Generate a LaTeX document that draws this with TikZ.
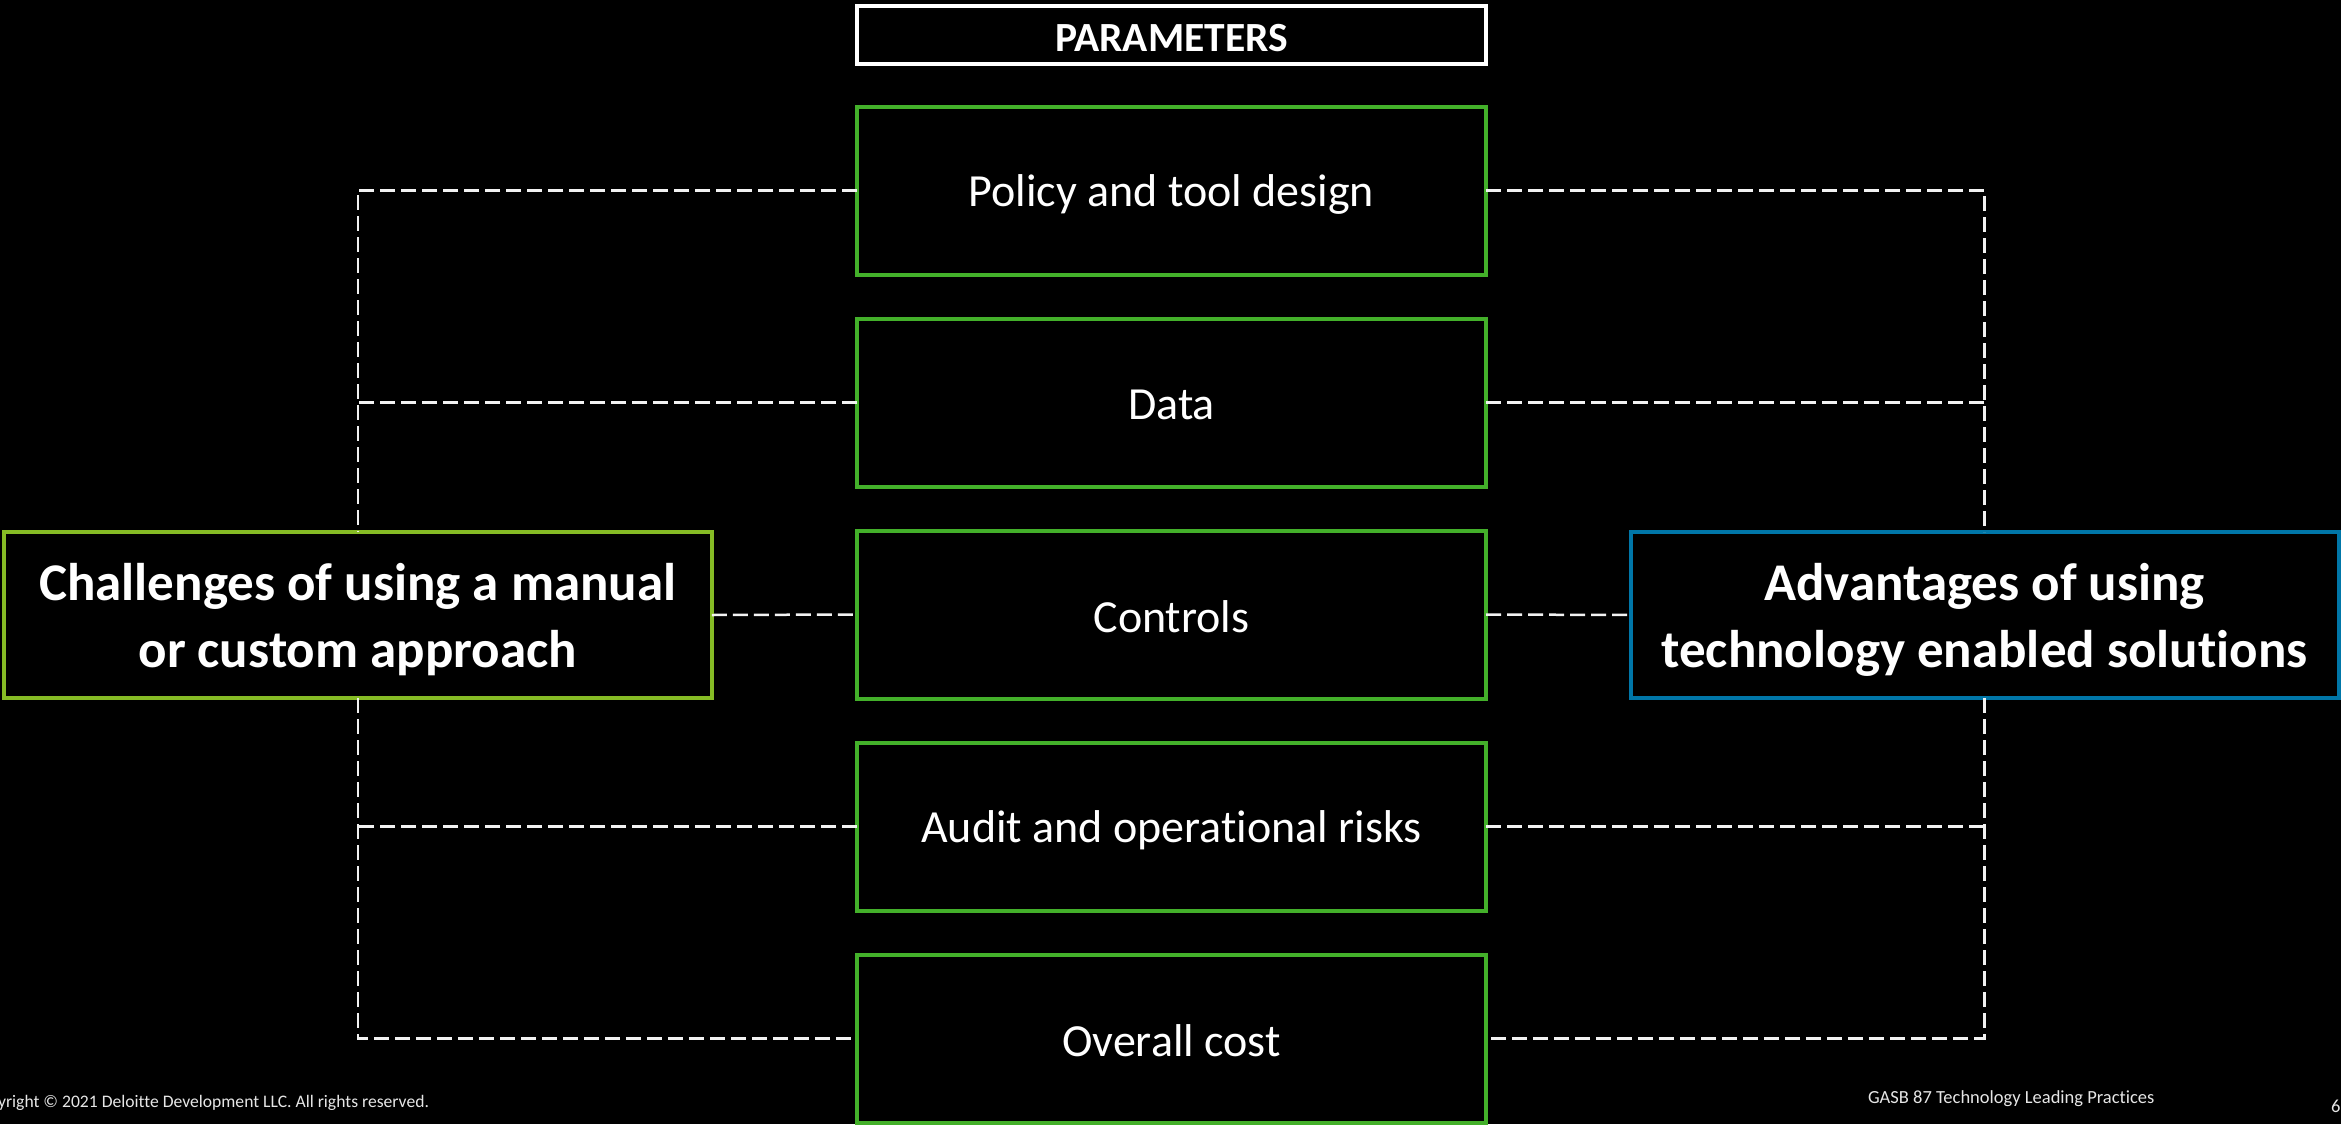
\documentclass[tikz,border=0pt]{standalone}
\usepackage{fontspec}
\setmainfont{Carlito}[Ligatures=NoCommon]
\definecolor{pgreen}{HTML}{43B02A}
\definecolor{lgreen}{HTML}{86BC25}
\definecolor{dblue}{HTML}{0076A8}
\definecolor{dashc}{HTML}{F2F2F2}
\definecolor{footc}{HTML}{E6E6E6}
\begin{document}
\begin{tikzpicture}[x=1pt,y=-1pt,
  parambox/.style={draw=pgreen, line width=4pt, minimum width=629pt, minimum height=168pt,
    inner sep=0pt, outer sep=0pt},
  ptext/.style={text=white, inner sep=0pt, font=\fontsize{46}{55}\selectfont},
  headbox/.style={draw=white, line width=4pt, minimum width=629pt, minimum height=58pt,
    inner sep=0pt, outer sep=0pt},
  htext/.style={text=white, inner sep=0pt, font=\bfseries\fontsize{41.5}{50}\selectfont},
  sidebox/.style={line width=4pt, minimum width=708pt, minimum height=166pt,
    inner sep=0pt, outer sep=0pt},
  stext/.style={text=white, inner sep=0pt, align=center,
    font=\bfseries\fontsize{53}{67}\selectfont},
  link/.style={draw=dashc, line width=2.5pt, dash pattern=on 15pt off 6pt},
  foot/.style={text=footc, inner sep=0pt, outer sep=0pt, font=\fontsize{18.5}{22}\selectfont}
]
\useasboundingbox (0,0) rectangle (2341,1124);
\clip (0,0) rectangle (2341,1124);
\fill[black] (0,0) rectangle (2341,1124);

% header
\node[headbox] (hdr) at (1171.5,35.5) {};
\node[htext] (hdrt) at ([yshift=-2.5pt]hdr.center) {PARAMETERS};

% parameter boxes
\node[parambox] (p1) at (1171.5,190.5) {};
\node[parambox] (p2) at (1171.5,402.5) {};
\node[parambox] (p3) at (1171.5,614.5) {};
\node[parambox] (p4) at (1171.5,826.5) {};
\node[parambox] (p5) at (1171.5,1038.5) {};
\node[ptext] (t1) at ([yshift=-3.5pt]p1.center) {Policy and tool design};
\node[ptext] (t2) at ([yshift=-2pt]p2.center) {Data};
\node[ptext] (t3) at ([yshift=-2pt]p3.center) {Controls};
\node[ptext] (t4) at ([yshift=-3.5pt]p4.center) {Audit and operational risks};
\node[ptext] (t5) at ([yshift=-2pt]p5.center) {Overall cost};

% side boxes
\node[sidebox, draw=lgreen] (lbox) at (357.75,615) {};
\node[sidebox, draw=dblue] (rbox) at (1984.5,615) {};
\node[stext] (lt) at ([yshift=-5pt]lbox.center) {Challenges of using a manual\\or custom approach};
\node[stext] (rt) at ([yshift=-5pt]rbox.center) {Advantages of using\\technology enabled solutions};

% junction coordinates
\coordinate (L1) at (357.75,190.5);
\coordinate (L2) at (357.75,402.5);
\coordinate (L4) at (357.75,826.5);
\coordinate (L5) at (357.75,1038.5);
\coordinate (R1) at (1984.5,190.5);
\coordinate (R2) at (1984.5,402.5);
\coordinate (R4) at (1984.5,826.5);
\coordinate (R5) at (1984.5,1038.5);

% left connectors
\draw[link] (p1.west) -- (L1) -- (L2) -- (lbox.north);
\draw[link] (p2.west) -- (L2);
\draw[link] (lbox.east) -- (p3.west);
\draw[link] (lbox.south) -- (L4) -- (L5) -- (p5.west);
\draw[link] (p4.west) -- (L4);

% right connectors
\draw[link] (p1.east) -- (R1) -- (R2) -- (rbox.north);
\draw[link] (p2.east) -- (R2);
\draw[link] (p3.east) -- (rbox.west);
\draw[link] (rbox.south) -- (R4) -- (R5) -- (p5.east);
\draw[link] (p4.east) -- (R4);

% footer
\node[foot, anchor=base east, font=\fontsize{17.6}{21}\selectfont] (copy) at (429,1107) {Copyright © 2021 Deloitte Development LLC. All rights reserved.};
\node[foot, anchor=base west] (gasb) at (1868,1103) {GASB 87 Technology Leading Practices};
\node[foot, anchor=base west] (pg) at (2331,1112) {6};
\end{tikzpicture}
\end{document}
